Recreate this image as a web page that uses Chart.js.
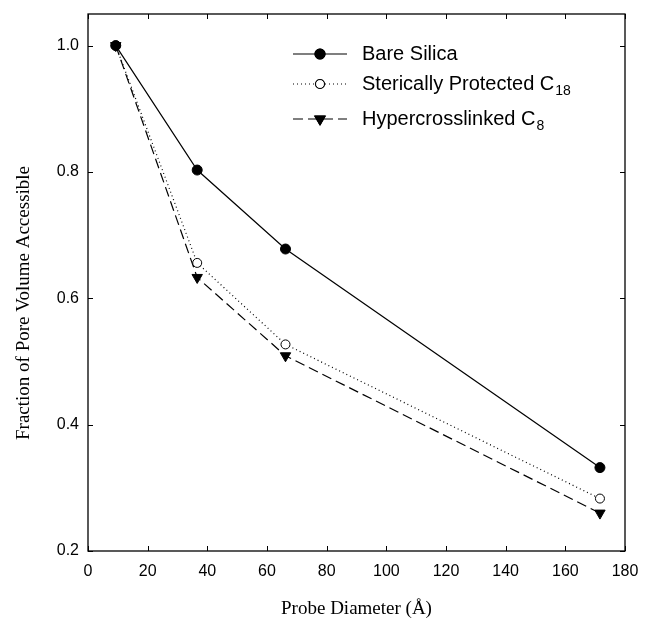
<!DOCTYPE html>
<html>
<head>
<meta charset="utf-8">
<script src="https://cdn.jsdelivr.net/npm/chart.js@4.4.0/dist/chart.umd.min.js"></script>
<style>
  html, body { margin: 0; padding: 0; background: #fff; }
  #wrap { width: 647px; height: 628px; position: relative; }
</style>
</head>
<body>
<div id="wrap"><canvas id="c" width="647" height="628"></canvas></div>
<script>
// ---- data ----
const probeDiameters = [9.3, 36.6, 66.2, 171.6];
const bareSilica = [1.0, 0.803, 0.678, 0.332];
const stericC18 = [1.0, 0.656, 0.527, 0.283];
const hyperC8 = [1.0, 0.633, 0.509, 0.260];
const seriesNames = ['Bare Silica', 'Sterically Protected C', 'Hypercrosslinked C'];
const seriesSubs = ['', '18', '8'];
const xTickValues = [0, 20, 40, 60, 80, 100, 120, 140, 160, 180];
const yTickValues = [0.2, 0.4, 0.6, 0.8, 1.0];
const xTitle = 'Probe Diameter (Å)';
const yTitle = 'Fraction of Pore Volume Accessible';

const toPts = ys => ys.map((y, i) => ({ x: probeDiameters[i], y }));

const SANS = '"Liberation Sans", Arial, Helvetica, sans-serif';
const SERIF = '"Liberation Serif", "Times New Roman", serif';

const AREA = { left: 88, top: 14, right: 625, bottom: 551 };

const styles = [
  { dash: [], pointStyle: 'circle', radius: 5, fill: '#000', rot: 0 },
  { dash: [1, 3], pointStyle: 'circle', radius: 4.5, fill: '#fff', rot: 0 },
  { dash: [10, 5], pointStyle: 'triangle', radius: 6, fill: '#000', rot: 180 }
];
const seriesData = [bareSilica, stericC18, hyperC8];

const datasets = seriesData.map((d, i) => ({
  label: seriesNames[i] + seriesSubs[i],
  data: toPts(d),
  borderColor: '#000',
  borderWidth: 1.2,
  borderDash: styles[i].dash,
  pointStyle: styles[i].pointStyle,
  pointRadius: styles[i].radius,
  pointRotation: styles[i].rot,
  pointBackgroundColor: styles[i].fill,
  pointBorderColor: '#000',
  pointBorderWidth: 1,
  tension: 0,
  fill: false
}));

const areaPlugin = {
  id: 'fixedArea',
  afterLayout(chart) {
    const a = AREA;
    chart.chartArea = { left: a.left, top: a.top, right: a.right, bottom: a.bottom,
                        width: a.right - a.left, height: a.bottom - a.top };
    const xs = chart.scales.x, ys = chart.scales.y;
    xs.left = a.left; xs.right = a.right; xs.width = a.right - a.left;
    xs.top = a.bottom; xs.bottom = chart.height; xs.height = chart.height - a.bottom;
    ys.top = a.top; ys.bottom = a.bottom; ys.height = a.bottom - a.top;
    ys.left = 0; ys.right = a.left; ys.width = a.left;
    xs.configure(); ys.configure();
  }
};

const framePlugin = {
  id: 'frame',
  afterDraw(chart) {
    const ctx = chart.ctx;
    const a = chart.chartArea;
    const xs = chart.scales.x, ys = chart.scales.y;
    ctx.save();
    ctx.strokeStyle = '#000';
    ctx.lineWidth = 1.3;
    ctx.setLineDash([]);
    ctx.strokeRect(a.left, a.top, a.right - a.left, a.bottom - a.top);
    const tl = 5;
    ctx.beginPath();
    xTickValues.forEach(v => {
      const px = Math.round(xs.getPixelForValue(v)) + 0.5;
      ctx.moveTo(px, a.bottom); ctx.lineTo(px, a.bottom - tl);
      ctx.moveTo(px, a.top); ctx.lineTo(px, a.top + tl);
    });
    yTickValues.forEach(v => {
      const py = Math.round(ys.getPixelForValue(v)) + 0.5;
      ctx.moveTo(a.left, py); ctx.lineTo(a.left + tl, py);
      ctx.moveTo(a.right, py); ctx.lineTo(a.right - tl, py);
    });
    ctx.lineWidth = 1;
    ctx.stroke();

    // axis titles
    ctx.fillStyle = '#000';
    ctx.font = '19px ' + SERIF;
    ctx.textAlign = 'center';
    ctx.textBaseline = 'alphabetic';
    ctx.fillText(xTitle, (a.left + a.right) / 2, 614);
    ctx.save();
    ctx.translate(29, 303);
    ctx.rotate(-Math.PI / 2);
    ctx.fillText(yTitle, 0, 0);
    ctx.restore();

    // legend
    const rows = [54, 84, 119];
    const lx0 = 293, lx1 = 347, mx = 320, tx = 362;
    chart.data.datasets.forEach((ds, i) => {
      const y = rows[i];
      ctx.beginPath();
      ctx.setLineDash(styles[i].dash);
      ctx.lineWidth = 1.2;
      ctx.moveTo(lx0, y); ctx.lineTo(lx1, y);
      ctx.stroke();
      ctx.setLineDash([]);
      Chart.helpers.drawPoint(ctx, {
        pointStyle: styles[i].pointStyle,
        rotation: styles[i].rot,
        radius: styles[i].radius,
        borderWidth: 1
      }, mx, y);
      ctx.fillStyle = styles[i].fill;
      ctx.fill();
      ctx.strokeStyle = '#000';
      ctx.lineWidth = 1;
      ctx.stroke();
      ctx.fillStyle = '#000';
      ctx.font = '20px ' + SANS;
      ctx.textAlign = 'left';
      ctx.textBaseline = 'middle';
      ctx.fillText(seriesNames[i], tx, y);
      if (seriesSubs[i]) {
        const w = ctx.measureText(seriesNames[i]).width;
        ctx.font = '14px ' + SANS;
        ctx.fillText(seriesSubs[i], tx + w + 1, y + 7);
      }
    });
    ctx.restore();
  }
};

new Chart(document.getElementById('c'), {
  type: 'line',
  data: { datasets },
  options: {
    responsive: false,
    animation: false,
    layout: { padding: { left: 0, right: 20, top: 10, bottom: 0 } },
    plugins: { legend: { display: false }, tooltip: { enabled: false } },
    scales: {
      x: {
        type: 'linear',
        min: 0, max: 180,
        afterBuildTicks: s => { s.ticks = xTickValues.map(v => ({ value: v })); },
        afterFit: s => { s.height = 77; },
        grid: { display: false, drawTicks: false },
        border: { display: false },
        ticks: { color: '#000', font: { family: SANS, size: 16 }, padding: 11, maxRotation: 0, autoSkip: false,
                 callback: v => String(v) }
      },
      y: {
        type: 'linear',
        min: 0.2, max: 1.05,
        afterBuildTicks: s => { s.ticks = yTickValues.map(v => ({ value: v })); },
        afterFit: s => { s.width = 88; },
        grid: { display: false, drawTicks: false },
        border: { display: false },
        ticks: { color: '#000', font: { family: SANS, size: 16 }, padding: 9,
                 callback: v => Number(v).toFixed(1) }
      }
    }
  },
  plugins: [areaPlugin, framePlugin]
});
</script>
</body>
</html>
